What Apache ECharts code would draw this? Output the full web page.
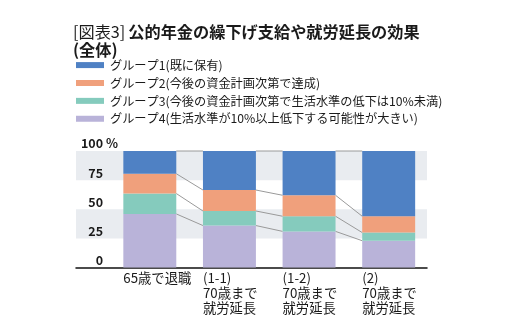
<!DOCTYPE html>
<html><head><meta charset="utf-8">
<script src="https://cdn.jsdelivr.net/npm/echarts@6/dist/echarts.min.js"></script>
<style>html,body{margin:0;padding:0;background:#fff}#c{width:509px;height:329px}</style>
</head><body><div id="c"></div>
<script>
const categories = ['65歳で退職', '(1-1)\n70歳まで\n就労延長', '(1-2)\n70歳まで\n就労延長', '(2)\n70歳まで\n就労延長'];
const seriesNames = ['グループ1(既に保有)', 'グループ2(今後の資金計画次第で達成)', 'グループ3(今後の資金計画次第で生活水準の低下は10%未満)', 'グループ4(生活水準が10%以上低下する可能性が大きい)'];
const group4 = [46, 36, 31, 23];
const group3 = [17.5, 12.5, 13, 7];
const group2 = [17, 18, 18, 14];
const group1 = [19.5, 33.5, 38, 56];
const yTicks = [0, 25, 50, 75, 100];
const yUnit = ' %';
const colors = {g1: '#4f81c4', g2: '#f0a07c', g3: '#85cbbd', g4: '#b9b3d9'};

const FONT = '"Noto Sans CJK JP", "Noto Sans", sans-serif';
const BARW = 0.665;

// cumulative boundaries for series lines
const stackOrder = [group4, group3, group2, group1];
const lineData = [];
for (let i = 0; i < categories.length - 1; i++) {
  let c1 = 0, c2 = 0;
  for (const s of stackOrder) {
    c1 += s[i]; c2 += s[i + 1];
    lineData.push([i, c1, c2]);
  }
}

const chart = echarts.init(document.getElementById('c'), null, {renderer: 'canvas'});
chart.setOption({
  animation: false,
  textStyle: {fontFamily: FONT},
  title: {
    left: 68, top: 18.5,
    text: '{a|[図表3]}{b|公的年金の繰下げ支給や就労延長の効果}\n{b|(全体)}',
    textStyle: {
      rich: {
        a: {fontFamily: FONT, fontSize: 16.2, fontWeight: 'normal', color: '#1a1a1a', lineHeight: 17.5, padding: [0, 3, 0, 0]},
        b: {fontFamily: FONT, fontSize: 16.2, fontWeight: 'bold', color: '#1a1a1a', lineHeight: 17.5}
      }
    }
  },
  legend: {
    orient: 'vertical', left: 71, top: 54,
    itemWidth: 28, itemHeight: 6, itemGap: 5.7,
    icon: 'rect',
    data: seriesNames,
    textStyle: {fontFamily: FONT, fontSize: 12.2, color: '#1a1a1a', lineHeight: 12, padding: [0, 0, 0, 1]}
  },
  grid: [
    {left: 76, right: 82, top: 151, bottom: 61.5},
    {left: 110, right: 80.5, top: 151, bottom: 61.5},
    {left: 83.5, right: 107, top: 151, bottom: 61.5},
    {left: 123, right: 80.5, top: 151, bottom: 61.5}
  ],
  xAxis: [
    {gridIndex: 0, type: 'value', min: 0, max: 1, axisLine: {show: true, lineStyle: {color: '#111', width: 1.5}}, axisTick: {show: false}, axisLabel: {show: false}, splitLine: {show: false}},
    {gridIndex: 1, type: 'category', data: categories, axisLine: {show: false}, axisTick: {show: false}, axisLabel: {show: false}},
    {gridIndex: 2, type: 'category', data: categories, axisLine: {show: false}, axisTick: {show: false},
      axisLabel: {align: 'left', margin: 3, fontFamily: FONT, fontSize: 13.3, color: '#1a1a1a', lineHeight: 15, interval: 0}},
    {gridIndex: 3, type: 'value', show: false}
  ],
  yAxis: [
    {gridIndex: 0, type: 'value', min: 0, max: 100, interval: 25,
      axisLine: {show: false}, axisTick: {show: false}, splitLine: {show: false}, axisLabel: {show: false},
      splitArea: {show: true, areaStyle: {color: ['rgba(255,255,255,0)', '#e9ecf0']}}},
    {gridIndex: 1, type: 'value', min: 0, max: 100, show: false},
    {gridIndex: 2, type: 'value', min: 0, max: 100, show: false},
    {gridIndex: 3, type: 'value', min: 0, max: 100, interval: 25,
      axisLine: {show: false}, axisTick: {show: false}, splitLine: {show: false},
      axisLabel: {margin: 5, verticalAlign: 'bottom', fontFamily: FONT, fontSize: 12.5, fontWeight: 'bold', color: '#1a1a1a',
        showMaxLabel: true, padding: [0, 0, 1, 0],
        formatter: v => v === 100 ? v + yUnit : v + '{h|' + yUnit + '}',
        rich: {h: {fontFamily: FONT, fontSize: 12.5, fontWeight: 'bold', color: 'rgba(0,0,0,0)'}}}}
  ],
  series: [
    {name: seriesNames[3], type: 'bar', stack: 's', xAxisIndex: 1, yAxisIndex: 1, barWidth: (BARW * 100) + '%', data: group4, itemStyle: {color: colors.g4}},
    {name: seriesNames[2], type: 'bar', stack: 's', xAxisIndex: 1, yAxisIndex: 1, data: group3, itemStyle: {color: colors.g3}},
    {name: seriesNames[1], type: 'bar', stack: 's', xAxisIndex: 1, yAxisIndex: 1, data: group2, itemStyle: {color: colors.g2}},
    {name: seriesNames[0], type: 'bar', stack: 's', xAxisIndex: 1, yAxisIndex: 1, data: group1, itemStyle: {color: colors.g1}},
    {type: 'custom', xAxisIndex: 1, yAxisIndex: 1, data: lineData, silent: true,
      renderItem: function (params, api) {
        const i = api.value(0);
        const p1 = api.coord([i, api.value(1)]);
        const p2 = api.coord([i + 1, api.value(2)]);
        const half = api.size([1, 0])[0] * BARW / 2;
        return {type: 'line', shape: {x1: p1[0] + half, y1: p1[1], x2: p2[0] - half, y2: p2[1]},
          style: {stroke: '#9a9a9a', lineWidth: 1}};
      }}
  ]
});
</script></body></html>
